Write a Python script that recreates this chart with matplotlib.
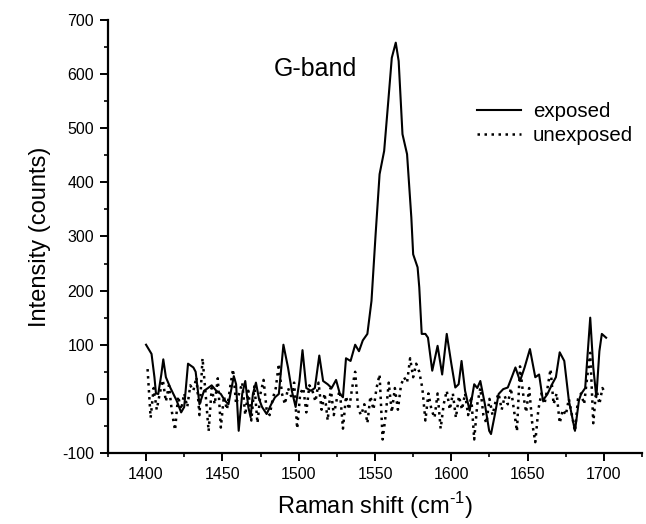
import matplotlib
matplotlib.use("Agg")
import matplotlib.pyplot as plt
from matplotlib.ticker import MultipleLocator

plt.rcParams['font.family'] = ['Liberation Sans', 'DejaVu Sans']
plt.rcParams['axes.unicode_minus'] = False
plt.rcParams['mathtext.fontset'] = 'custom'
plt.rcParams['mathtext.rm'] = 'Liberation Sans'

# Exposed spectrum (solid)
exp_x = [1400, 1403.6, 1405.5, 1406.5, 1408, 1410, 1411.3, 1413, 1416, 1420, 1423, 1425,
         1427.5, 1431, 1432.5, 1435, 1438, 1440.6, 1443, 1446, 1449, 1451.6, 1454, 1457.5,
         1459, 1460.7, 1463, 1465, 1467, 1468.5, 1470, 1472, 1474, 1476, 1479, 1482, 1484.5,
         1487, 1490, 1493, 1495.5, 1498, 1500.5, 1502.5, 1505, 1508, 1510.6, 1513.5, 1516,
         1519, 1521.6, 1524.5, 1527, 1529, 1531, 1534, 1537, 1539.5, 1542, 1545, 1547.7,
         1550.4, 1553, 1556, 1558.7, 1561, 1563.6, 1565.5, 1568, 1571, 1573.8, 1575, 1577.9,
         1579, 1580.6, 1583, 1584.7, 1587.5, 1591, 1594, 1597, 1600, 1602.6, 1604.8, 1606.7,
         1609, 1612, 1615, 1617, 1619, 1622, 1624.8, 1626, 1628.6, 1631, 1634, 1637, 1639.6,
         1642, 1645, 1648, 1651.5, 1655, 1657.5, 1660, 1663, 1666, 1668.5, 1671, 1674, 1677,
         1681, 1683.6, 1685, 1687.7, 1691, 1693, 1695, 1697, 1698.6, 1701.4]
exp_y = [100, 83, 40, 10, 9, 45, 73, 40, 20, -3, -25, -15,
         65, 58, 50, -10, 15, 20, 25, 15, 9, -3, -10, 42,
         27, -59, 9, 33, -15, -34, 9, 30, 0, -15, -28, -10, 3,
         9, 100, 58, 15, -15, 33, 90, 20, 15, 20, 80, 33,
         27, 20, 35, 9, 3, 75, 70, 100, 88, 108, 120, 181,
         304, 415, 458, 550, 630, 658, 624, 489, 452, 335, 267, 243,
         206, 120, 120, 113, 52, 98, 45, 120, 65, 21, 27, 70,
         15, -22, 27, 20, 33, -10, -59, -65, -28, 9, 18, 21, 40,
         58, 33, 58, 92, 40, 45, -3, 9, 27, 40, 86, 70, -3,
         -59, -3, 9, 20, 150, 58, 3, 88, 120, 113]

# Unexposed spectrum (dotted)
unexp_x = list(range(1401, 1702, 2))
unexp_y = [55, -35, 20, -20, 10, 35, -5, 25, -25, -58,
           5, -20, 10, -15, 25, 15, 40, -30, 75, 10,
           -60, 20, -10, 38, -53, 5, -20, 20, 55, -10,
           10, 30, -30, 15, -40, 25, -45, 10, 35, -20,
           -30, 0, 20, 65, 10, -10, 20, 5, 30, -55,
           10, 20, -25, 25, 15, -5, 30, -20, 10, -40,
           20, -30, 0, 15, -55, 5, -20, 20, 50, -20,
           -30, -10, -45, 5, -20, 20, 45, -75, -30, 30,
           -25, 20, -20, 25, 40, 30, 75, 40, 65, 50,
           20, -40, 10, -20, -35, 10, -55, -10, 15, -20,
           10, -35, 5, -20, 10, -30, 5, -75, -10, 20,
           -30, -45, 0, -30, -5, 10, -20, 5, -10, 20,
           -20, -60, 60, 10, -25, 20, -45, -80, -20, 10,
           -10, 20, 55, -10, 10, -45, -20, -30, 0, -30,
           -60, 0, 10, -10, 40, 85, -45, 20, -10, 20,
           10]

fig = plt.figure(figsize=(6.46, 5.24), dpi=100)
ax = fig.add_axes([0.167, 0.1355, 0.827, 0.8265])

ax.plot(exp_x, exp_y, color='black', lw=1.5, label='exposed')
ax.plot(unexp_x, unexp_y, color='black', lw=1.8, linestyle=(0, (1, 1.8)), label='unexposed')

ax.set_xlim(1375, 1725)
ax.set_ylim(-100, 700)
ax.xaxis.set_major_locator(MultipleLocator(50))
ax.xaxis.set_minor_locator(MultipleLocator(25))
ax.yaxis.set_major_locator(MultipleLocator(100))
ax.yaxis.set_minor_locator(MultipleLocator(50))

for s in ['top', 'right']:
    ax.spines[s].set_visible(False)
for s in ['left', 'bottom']:
    ax.spines[s].set_linewidth(1.6)

ax.tick_params(which='major', direction='out', length=6, width=1.4, labelsize=11.5, pad=4)
ax.tick_params(which='minor', direction='out', length=3, width=1.2)

ax.set_xlabel('Raman shift (cm$^{\\text{-1}}$)', fontsize=17, labelpad=6)
ax.set_ylabel('Intensity (counts)', fontsize=17, labelpad=8)

ax.text(1511, 609, 'G-band', fontsize=18, ha='center', va='center')

ax.legend(loc='center left', bbox_to_anchor=(0.69, 0.76), frameon=False, fontsize=14.7,
          handlelength=2.2, handletextpad=0.55, borderpad=0, borderaxespad=0, labelspacing=0.25)

fig.savefig('out.png', dpi=100)
